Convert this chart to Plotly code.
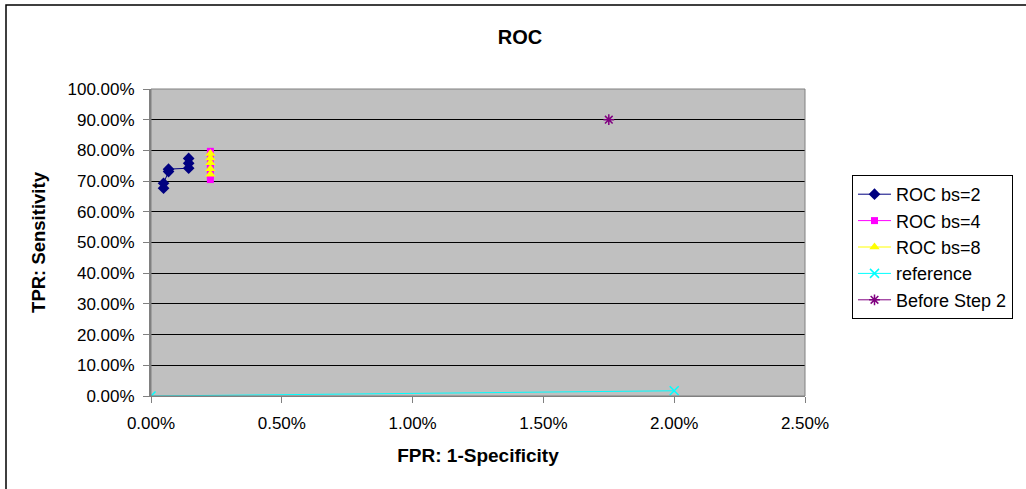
import plotly.graph_objects as go

# Data (fractions; displayed as percentages)
bs2_fpr = [0.00048, 0.00048, 0.00067, 0.00067, 0.00144, 0.00144, 0.00144]
bs2_tpr = [0.677, 0.693, 0.731, 0.739, 0.742, 0.758, 0.774]
bs4_fpr = [0.00227, 0.00227, 0.00227, 0.00227, 0.00227, 0.00227]
bs4_tpr = [0.705, 0.72, 0.74, 0.76, 0.78, 0.797]
bs8_fpr = [0.00227, 0.00227, 0.00227, 0.00227, 0.00227]
bs8_tpr = [0.722, 0.74, 0.76, 0.775, 0.79]
ref_fpr = [0.0, 0.02]
ref_tpr = [0.0, 0.017]
before_fpr = [0.0175]
before_tpr = [0.90]

FONT = "Liberation Sans, Arial, sans-serif"

fig = go.Figure()
fig.add_trace(go.Scatter(x=bs2_fpr, y=bs2_tpr, name="ROC bs=2", mode="lines+markers",
                         line=dict(color="#000080", width=1),
                         marker=dict(symbol="diamond", size=9, color="#000080")))
fig.add_trace(go.Scatter(x=bs4_fpr, y=bs4_tpr, name="ROC bs=4", mode="lines+markers",
                         line=dict(color="#FF00FF", width=1),
                         marker=dict(symbol="square", size=7, color="#FF00FF")))
fig.add_trace(go.Scatter(x=bs8_fpr, y=bs8_tpr, name="ROC bs=8", mode="lines+markers",
                         line=dict(color="#FFFF00", width=1),
                         marker=dict(symbol="triangle-up", size=9, color="#FFFF00")))
fig.add_trace(go.Scatter(x=ref_fpr, y=ref_tpr, name="reference", mode="lines+markers",
                         line=dict(color="#00FFFF", width=1),
                         marker=dict(symbol="x-thin", size=9, color="#00FFFF",
                                     line=dict(color="#00FFFF", width=1.5))))
fig.add_trace(go.Scatter(x=before_fpr, y=before_tpr, name="Before Step 2", mode="lines+markers",
                         line=dict(color="#800080", width=1),
                         marker=dict(symbol="asterisk", size=9, color="#800080",
                                     line=dict(color="#800080", width=1.5))))

fig.update_layout(
    width=1026, height=489,
    margin=dict(l=151, r=221, t=89, b=93, pad=0),
    paper_bgcolor="white",
    plot_bgcolor="#C0C0C0",
    font=dict(family=FONT, size=17, color="black"),
    title=dict(text="<b>ROC</b>", x=520 / 1026, xanchor="center",
               y=1 - 37 / 489, yanchor="middle", font=dict(size=20, family=FONT)),
    showlegend=True,
    legend=dict(x=(852 - 151) / 654, xanchor="left", y=(396 - 247) / 307, yanchor="middle",
                bordercolor="black", borderwidth=1, bgcolor="white",
                font=dict(size=18, family=FONT), tracegroupgap=0, itemwidth=33),
)
fig.update_xaxes(
    range=[0, 0.025], dtick=0.005, tick0=0, tickformat=".2%",
    showgrid=False, zeroline=False,
    showline=True, linecolor="#808080", linewidth=1,
    ticks="outside", ticklen=6, tickcolor="#808080", ticklabelstandoff=6,
    title=dict(text="<b>FPR: 1-Specificity</b>", font=dict(size=19), standoff=16),
)
fig.update_yaxes(
    range=[0, 1], dtick=0.1, tick0=0, tickformat=".2%",
    showgrid=True, gridcolor="black", gridwidth=1, zeroline=False,
    showline=True, linecolor="#808080", linewidth=2,
    ticks="outside", ticklen=6, tickcolor="#808080", ticklabelstandoff=5,
    title=dict(text="<b>TPR: Sensitivity</b>", font=dict(size=18.5), standoff=17),
)
# plot-area border (grey) and outer chart frame
fig.add_shape(type="rect", xref="paper", yref="paper", x0=0, x1=1, y0=0, y1=1,
              line=dict(color="#808080", width=1), layer="above")
fig.add_shape(type="rect", xref="paper", yref="paper",
              x0=(6 - 151) / 654, x1=(1040 - 151) / 654,
              y0=(396 - 500) / 307, y1=(396 - 5) / 307,
              line=dict(color="black", width=1.5), layer="below")

fig.write_html("out.html")
